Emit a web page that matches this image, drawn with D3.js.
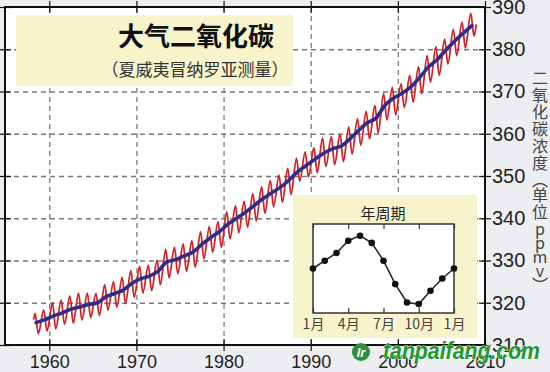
<!DOCTYPE html>
<html>
<head>
<meta charset="utf-8">
<script src="https://cdn.jsdelivr.net/npm/d3@7"></script>
<style>
  body { margin: 0; background: #eceef2; }
  svg { display: block; }
</style>
</head>
<body>
<script>
// annual trend (blue), plotted mid-year
const trendYears = d3.range(1958, 2009);
const trendValues = [315.3, 316.0, 316.9, 317.6, 318.5, 319.0, 319.6, 320.0, 321.4, 322.2,
  323.0, 324.6, 325.7, 326.3, 327.5, 329.7, 330.2, 331.1, 332.0, 333.8,
  335.4, 336.8, 338.6, 340.0, 341.4, 343.0, 344.6, 346.0, 347.3, 349.0,
  351.0, 352.5, 354.0, 355.4, 356.4, 357.1, 358.8, 360.8, 362.6, 363.7,
  366.7, 368.4, 369.6, 371.1, 373.3, 375.8, 377.5, 379.8, 381.9, 383.8, 385.6];

// monthly record (red): yearly May peaks and Sep/Oct troughs
const peakValues = [317.5, 318.3, 320.0, 320.6, 321.6, 322.3, 322.3, 322.2, 324.3, 325.0,
  326.0, 327.6, 328.6, 328.9, 330.1, 332.6, 333.1, 333.9, 334.7, 336.8,
  338.0, 339.2, 341.5, 343.0, 344.0, 345.8, 347.4, 348.9, 350.2, 351.8,
  354.2, 355.7, 356.7, 359.0, 359.3, 359.9, 361.6, 363.6, 365.3, 366.7,
  369.5, 371.0, 371.8, 373.8, 375.9, 378.5, 380.6, 382.4, 384.7, 386.4, 388.5];
const troughValues = [312.7, 313.3, 313.8, 314.9, 315.2, 315.9, 316.5, 317.0, 318.2, 318.9,
  319.8, 321.3, 322.3, 322.9, 324.3, 325.9, 326.9, 327.4, 328.4, 330.4,
  332.0, 333.1, 335.1, 336.6, 337.9, 339.4, 341.2, 342.7, 343.8, 345.6,
  348.8, 349.8, 350.8, 352.2, 352.7, 353.4, 355.2, 357.3, 358.8, 360.2,
  363.3, 364.5, 366.2, 367.5, 369.5, 372.2, 373.8, 376.5, 378.5, 380.3, 383.1];
const firstPoint = [1958.2, 316.0];
const lastPoint = [2009.0, 385.9];

const yearTicks = [1960, 1970, 1980, 1990, 2000, 2010];
const ppmTicks = [310, 320, 330, 340, 350, 360, 370, 380, 390];

// inset: seasonal cycle, Jan..Jan
const cycleMonths = d3.range(0, 13);
const cycleValues = [0.0, 0.7, 1.4, 2.5, 2.95, 2.3, 0.7, -1.4, -3.05, -3.2, -2.0, -0.9, 0.0];
const cycleTicks = [0, 3, 6, 9, 12];
const cycleLabels = ['1月', '4月', '7月', '10月', '1月'];

const title = '大气二氧化碳';
const subtitle = '（夏威夷冒纳罗亚测量）';
const insetTitle = '年周期';
const yTitle = ['二', '氧', '化', '碳', '浓', '度', '︵', '单', '位', 'p', 'p', 'm', 'v', '︶'];

const cjk = '"Noto Sans CJK SC", "Noto Sans", sans-serif';
const latin = '"Liberation Sans", Arial, sans-serif';

const svg = d3.select('body').append('svg')
  .attr('width', 550).attr('height', 372);

svg.append('rect').attr('width', 550).attr('height', 372).attr('fill', '#eceef2');

const x = d3.scaleLinear().domain([1954.92, 2010]).range([5, 485]);
const y = d3.scaleLinear().domain([310, 390]).range([345, 7]);

svg.append('rect')
  .attr('x', x.range()[0]).attr('y', y.range()[1])
  .attr('width', x.range()[1] - x.range()[0])
  .attr('height', y.range()[0] - y.range()[1])
  .attr('fill', '#fff');

// grid
const gridX = svg.append('g')
  .attr('transform', `translate(0,${y.range()[0]})`)
  .call(d3.axisBottom(x).tickValues(yearTicks.slice(0, -1))
    .tickSize(-(y.range()[0] - y.range()[1])).tickFormat(''));
gridX.select('.domain').remove();
const gridY = svg.append('g')
  .attr('transform', `translate(${x.range()[0]},0)`)
  .call(d3.axisLeft(y).tickValues(ppmTicks.slice(1, -1))
    .tickSize(-(x.range()[1] - x.range()[0])).tickFormat(''));
gridY.select('.domain').remove();
svg.selectAll('.tick line')
  .attr('stroke', '#7a7a7a').attr('stroke-width', 1.3).attr('stroke-dasharray', '5,4');

// title box
svg.append('rect')
  .attr('x', 16).attr('y', 15).attr('width', 277).attr('height', 71)
  .attr('fill', '#f7f4cb');
svg.append('text')
  .attr('x', 196).attr('y', 46)
  .attr('text-anchor', 'middle')
  .attr('font-family', cjk).attr('font-weight', 700).attr('font-size', 26)
  .attr('fill', '#111')
  .text(title);
svg.append('text')
  .attr('x', 195).attr('y', 76)
  .attr('text-anchor', 'middle')
  .attr('font-family', cjk).attr('font-size', 17)
  .attr('fill', '#333')
  .text(subtitle);

// data lines
const redPts = [firstPoint];
trendYears.forEach((yr, i) => {
  redPts.push([yr + 0.37, peakValues[i]]);
  redPts.push([yr + 0.74, troughValues[i]]);
});
redPts.push(lastPoint);

const line = d3.line()
  .x(d => x(d[0]))
  .y(d => y(d[1]))
  .curve(d3.curveMonotoneX);

svg.append('path')
  .attr('d', line(redPts))
  .attr('fill', 'none')
  .attr('stroke', '#cf2327')
  .attr('stroke-width', 1.8);

svg.append('path')
  .attr('d', line(trendYears.map((yr, i) => [yr + 0.5, trendValues[i]])))
  .attr('fill', 'none')
  .attr('stroke', '#2b2f8c')
  .attr('stroke-width', 3.6)
  .attr('stroke-linecap', 'round');

// inset
svg.append('rect')
  .attr('x', 293).attr('y', 195).attr('width', 184).attr('height', 143)
  .attr('fill', '#f7f4cb');

const ix = d3.scaleLinear().domain([0, 12]).range([313, 454]);
const iy = d3.scaleLinear().domain([-4, 4]).range([313, 224]);

svg.append('rect')
  .attr('x', ix.range()[0]).attr('y', iy.range()[1])
  .attr('width', ix.range()[1] - ix.range()[0])
  .attr('height', iy.range()[0] - iy.range()[1])
  .attr('fill', '#fff');

const ixAxis = svg.append('g')
  .attr('transform', `translate(0,${iy.range()[0]})`)
  .call(d3.axisBottom(ix).tickValues(cycleTicks)
    .tickFormat((d, i) => cycleLabels[i]).tickSize(-5).tickPadding(6));
ixAxis.select('.domain').remove();
ixAxis.selectAll('text')
  .attr('font-family', cjk).attr('font-size', 14).attr('fill', '#444');
ixAxis.selectAll('line').attr('stroke', '#333').attr('stroke-width', 1.2);

const ixTop = svg.append('g')
  .attr('transform', `translate(0,${iy.range()[1]})`)
  .call(d3.axisTop(ix).tickValues(cycleTicks).tickFormat('').tickSize(-5));
ixTop.select('.domain').remove();
ixTop.selectAll('line').attr('stroke', '#333').attr('stroke-width', 1.2);

svg.append('rect')
  .attr('x', ix.range()[0]).attr('y', iy.range()[1])
  .attr('width', ix.range()[1] - ix.range()[0])
  .attr('height', iy.range()[0] - iy.range()[1])
  .attr('fill', 'none').attr('stroke', '#333').attr('stroke-width', 1.5);

svg.append('path')
  .attr('d', d3.line().x(d => ix(d)).y((d, i) => iy(cycleValues[i]))(cycleMonths))
  .attr('fill', 'none').attr('stroke', '#222').attr('stroke-width', 1.5);

svg.selectAll('.cycle-dot')
  .data(cycleMonths)
  .join('circle')
  .attr('class', 'cycle-dot')
  .attr('cx', d => ix(d))
  .attr('cy', (d, i) => iy(cycleValues[i]))
  .attr('r', 3.3)
  .attr('fill', '#111');

svg.append('text')
  .attr('x', 383).attr('y', 219)
  .attr('text-anchor', 'middle')
  .attr('font-family', cjk).attr('font-size', 15).attr('fill', '#222')
  .text(insetTitle);

// frame
svg.append('rect')
  .attr('x', x.range()[0]).attr('y', y.range()[1])
  .attr('width', x.range()[1] - x.range()[0])
  .attr('height', y.range()[0] - y.range()[1])
  .attr('fill', 'none').attr('stroke', '#111').attr('stroke-width', 2);

// axes with ticks crossing the frame
const bottomAxis = svg.append('g')
  .attr('transform', `translate(0,${y.range()[0] - 6})`)
  .call(d3.axisBottom(x).tickValues(yearTicks).tickSize(12).tickPadding(4)
    .tickFormat(d3.format('d')));
const topAxis = svg.append('g')
  .attr('transform', `translate(0,${y.range()[1] + 6})`)
  .call(d3.axisTop(x).tickValues(yearTicks).tickSize(12).tickFormat(''));
const rightAxis = svg.append('g')
  .attr('transform', `translate(${x.range()[1] - 6},0)`)
  .call(d3.axisRight(y).tickValues(ppmTicks).tickSize(12).tickPadding(1));
const leftAxis = svg.append('g')
  .attr('transform', `translate(${x.range()[0] + 6},0)`)
  .call(d3.axisLeft(y).tickValues(ppmTicks).tickSize(12).tickFormat(''));

[bottomAxis, topAxis, rightAxis, leftAxis].forEach(a => {
  a.select('.domain').remove();
  a.selectAll('line').attr('stroke', '#111').attr('stroke-width', 1.2);
});
bottomAxis.selectAll('text')
  .attr('font-family', latin).attr('font-size', 18).attr('fill', '#222');
rightAxis.selectAll('text')
  .attr('font-family', latin).attr('font-size', 20).attr('fill', '#222');

// vertical y title
let ty = 77;
yTitle.forEach(ch => {
  const latinCh = /[a-z]/.test(ch);
  const paren = ch === '︵' || ch === '︶';
  svg.append('text')
    .attr('x', 540).attr('y', ty)
    .attr('text-anchor', 'middle')
    .attr('dominant-baseline', 'central')
    .attr('font-family', cjk).attr('font-size', 16).attr('fill', '#444')
    .text(ch);
  ty += latinCh ? 14 : (paren ? 15 : 17);
});

// watermark
const wm = svg.append('g');
wm.append('circle').attr('cx', 361).attr('cy', 352).attr('r', 9).attr('fill', '#2f8f3a');
wm.append('text')
  .attr('x', 361).attr('y', 357)
  .attr('text-anchor', 'middle')
  .attr('font-family', latin).attr('font-weight', 700).attr('font-style', 'italic')
  .attr('font-size', 13).attr('fill', '#fff')
  .text('lr');
wm.append('text')
  .attr('x', 383).attr('y', 359)
  .attr('font-family', latin).attr('font-weight', 700).attr('font-style', 'italic')
  .attr('font-size', 23).attr('fill', '#1e9a2c')
  .attr('stroke', '#fff').attr('stroke-width', 0.8).attr('paint-order', 'stroke')
  .attr('textLength', 157).attr('lengthAdjust', 'spacingAndGlyphs')
  .text('tanpaifang.com');
</script>
</body>
</html>
